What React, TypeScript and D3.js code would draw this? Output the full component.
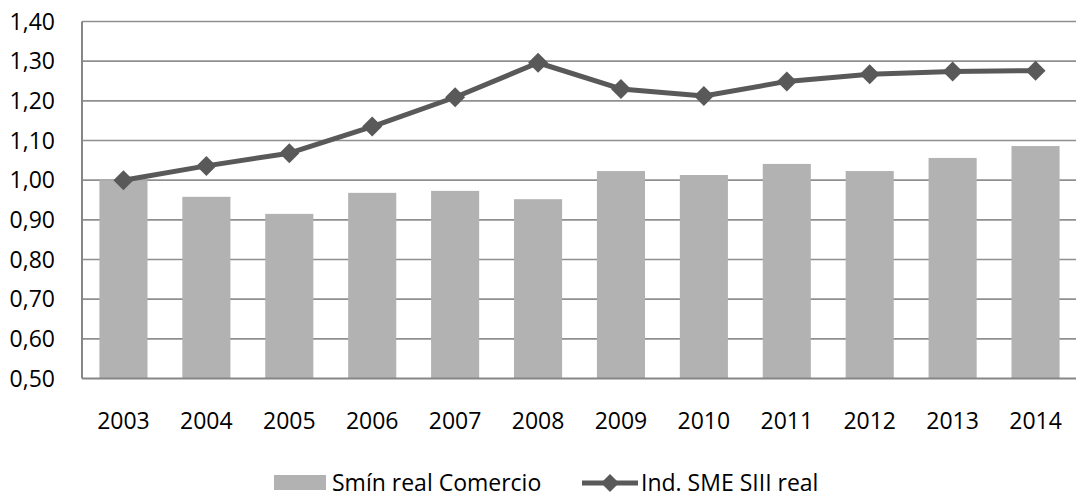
import React, { useEffect } from 'react';
import * as d3 from 'd3';

// chart data
const years = ['2003', '2004', '2005', '2006', '2007', '2008', '2009', '2010', '2011', '2012', '2013', '2014'];
const sminComercio = [1.0, 0.958, 0.915, 0.968, 0.973, 0.952, 1.023, 1.013, 1.041, 1.023, 1.056, 1.086];
const indSme = [1.0, 1.036, 1.068, 1.135, 1.209, 1.296, 1.23, 1.212, 1.249, 1.267, 1.274, 1.276];
const yTicks = [0.5, 0.6, 0.7, 0.8, 0.9, 1.0, 1.1, 1.2, 1.3, 1.4];
const seriesNames = ['Smín real Comercio', 'Ind. SME SIII real'];

const W = 1076;
const H = 502;
const left = 82;
const right = 1077;
const top = 21.5;
const bottom = 378.5;

const font = '"Open Sans", sans-serif';
const barColor = '#b2b2b2';
const lineColor = '#595959';
const gridColor = '#8f8f8f';

const fmt = (v: number) => v.toFixed(2).replace('.', ',');

const App = () => {
  useEffect(() => {
    document.body.style.margin = '0';
  }, []);

  const x = d3.scaleBand().domain(years).range([left, right]).paddingInner(0.42).paddingOuter(0.21);
  const y = d3.scaleLinear().domain([0.5, 1.4]).range([bottom, top]);

  const line = d3
    .line<number>()
    .x((_, i) => x(years[i])! + x.bandwidth() / 2)
    .y((d) => y(d));

  const diamond = (cx: number, cy: number, r: number) =>
    `M${cx},${cy - r}L${cx + r},${cy}L${cx},${cy + r}L${cx - r},${cy}Z`;

  return (
    <svg width={W} height={H} style={{ display: 'block', background: '#fff' }} fontFamily={font}>
      {/* gridlines */}
      {yTicks.slice(1).map((t) => (
        <line key={t} x1={left} x2={right} y1={y(t)} y2={y(t)} stroke={gridColor} strokeWidth={1.6} />
      ))}

      {/* bars */}
      {sminComercio.map((v, i) => (
        <rect
          key={years[i]}
          x={x(years[i])}
          y={y(v)}
          width={x.bandwidth()}
          height={y(0.5) - y(v)}
          fill={barColor}
        />
      ))}

      {/* axes */}
      <line x1={left} x2={left} y1={top} y2={bottom} stroke="#868686" strokeWidth={2} />
      <line x1={left} x2={right} y1={bottom} y2={bottom} stroke="#868686" strokeWidth={2} />

      {/* line series */}
      <path d={line(indSme) || ''} fill="none" stroke={lineColor} strokeWidth={5} strokeLinejoin="round" />
      {indSme.map((v, i) => (
        <path key={years[i]} d={diamond(x(years[i])! + x.bandwidth() / 2, y(v), 10)} fill={lineColor} />
      ))}

      {/* y tick labels */}
      {yTicks.map((t) => (
        <text key={t} x={55} y={y(t) + 8} textAnchor="end" fontSize={23} fill="#000">
          {fmt(t)}
        </text>
      ))}

      {/* x tick labels */}
      {years.map((yr) => (
        <text key={yr} x={x(yr)! + x.bandwidth() / 2} y={429} textAnchor="middle" fontSize={23} fill="#000">
          {yr}
        </text>
      ))}

      {/* legend */}
      <rect x={274} y={475} width={52} height={15} fill={barColor} />
      <text x={332} y={491} fontSize={23} fill="#000">
        {seriesNames[0]}
      </text>
      <line x1={582} x2={638} y1={483} y2={483} stroke={lineColor} strokeWidth={5} />
      <path d={diamond(610, 483, 9)} fill={lineColor} />
      <text x={641} y={491} fontSize={23} fill="#000">
        {seriesNames[1]}
      </text>
    </svg>
  );
};

export default App;
